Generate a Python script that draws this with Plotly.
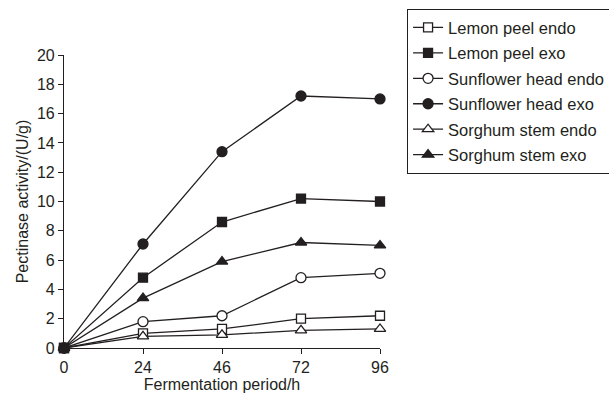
import plotly.graph_objects as go

periods = ["0", "24", "46", "72", "96"]
lemon_endo = [0, 1.0, 1.3, 2.0, 2.2]
lemon_exo = [0, 4.8, 8.6, 10.2, 10.0]
sun_endo = [0, 1.8, 2.2, 4.8, 5.1]
sun_exo = [0, 7.1, 13.4, 17.2, 17.0]
sor_endo = [0, 0.8, 0.9, 1.2, 1.3]
sor_exo = [0, 3.4, 5.9, 7.2, 7.0]

series = [
    ("Lemon peel endo", lemon_endo, "square-open"),
    ("Lemon peel exo", lemon_exo, "square"),
    ("Sunflower head endo", sun_endo, "circle-open"),
    ("Sunflower head exo", sun_exo, "circle"),
    ("Sorghum stem endo", sor_endo, "triangle-up-open"),
    ("Sorghum stem exo", sor_exo, "triangle-up"),
]

INK = "#231f20"
fig = go.Figure()
for i, (name, vals, sym) in enumerate(series):
    openm = sym.endswith("open")
    base = sym.replace("-open", "")
    size = 9 if base == "square" else 10
    fig.add_trace(go.Scatter(
        x=periods, y=vals, name=name, mode="lines+markers",
        line=dict(color=INK, width=1.3),
        marker=dict(symbol=base, size=size,
                    color="white" if openm else INK,
                    line=dict(color=INK, width=1.3)),
        cliponaxis=False, legendgroup=str(i),
    ))

fig.update_layout(
    width=609, height=399,
    margin=dict(l=64, r=229, t=55, b=51, autoexpand=False),
    paper_bgcolor="white", plot_bgcolor="white",
    font=dict(family="Liberation Sans, Arial, sans-serif", size=16, color=INK),
    showlegend=True,
    legend=dict(x=1.085, y=1.157, xanchor="left", yanchor="top",
                bordercolor=INK, borderwidth=1.2,
                font=dict(size=16.5, color=INK),
                tracegroupgap=1, bgcolor="white"),
    xaxis=dict(type="category", range=[0, 4], showline=True, linecolor=INK,
               linewidth=1.2, ticks="outside", ticklen=5, tickcolor=INK,
               showgrid=False, zeroline=False, tickfont=dict(size=16),
               title=dict(text="Fermentation period/h", standoff=2,
                          font=dict(size=16))),
    yaxis=dict(range=[0, 20], dtick=2, showline=True, linecolor=INK,
               linewidth=1.2, ticks="outside", ticklen=5, tickcolor=INK,
               showgrid=False, zeroline=False, tickfont=dict(size=16),
               title=dict(text="Pectinase activity/(U/g)", standoff=4,
                          font=dict(size=16))),
)

fig.write_html("out.html")
